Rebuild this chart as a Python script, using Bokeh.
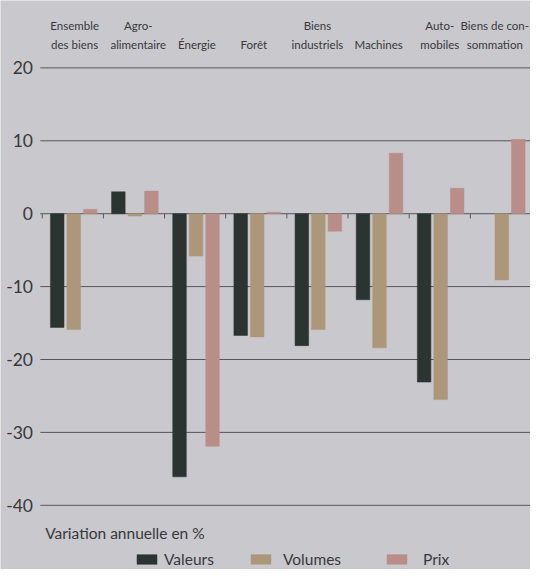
from bokeh.plotting import figure
from bokeh.models import Legend, LegendItem, Range1d
from bokeh.core.properties import value
from bokeh.embed import file_html
from bokeh.resources import INLINE

# ---------------- data ----------------
categories = ["Ensemble des biens", "Agroalimentaire", "Énergie", "Forêt",
              "Biens industriels", "Machines", "Automobiles", "Biens de consommation"]
label_line1 = ["Ensemble", "Agro-", "", "", "Biens", "", "Auto-", "Biens de con-"]
label_line2 = ["des biens", "alimentaire", "Énergie", "Forêt", "industriels",
               "Machines", "mobiles", "sommation"]
valeurs = [-15.6, 3.0, -36.1, -16.7, -18.1, -11.8, -23.1, float("nan")]
volumes = [-15.9, -0.3, -5.8, -16.9, -15.9, -18.4, -25.5, -9.1]
prix = [0.6, 3.1, -31.9, 0.2, -2.4, 8.3, 3.5, 10.2]
y_ticks = [-40, -30, -20, -10, 0, 10, 20]
series_names = ["Valeurs", "Volumes", "Prix"]
unit_note = "Variation annuelle en %"

# ---------------- style / layout ----------------
FONT = "Lato"
BG = "#c9c8cd"
GRID = "#56565b"
TXT = "#38383a"
COLORS = ["#2b3430", "#ad977a", "#b98e89"]

REF_W, REF_H = 546, 585      # design grid
W, H = 530, 569              # actual figure size
SX, SY = W / REF_W, H / REF_H
PXY = 7.495                  # design pixels per unit (y)
PXX = 63.0                   # design pixels per category group
Y20 = 69.3                   # design row of the 20 gridline
X0 = 43.0                    # design column of the first group boundary


def y_at(py):
    return 20 + (Y20 - py) / PXY


def x_at(px):
    return (px - X0) / PXX


p = figure(width=W, height=H,
           x_range=Range1d(x_at(0), x_at(REF_W)), y_range=Range1d(y_at(REF_H), y_at(0)),
           output_backend="svg", toolbar_location=None, title=None,
           min_border=0)
p.background_fill_color = BG
p.border_fill_color = BG
p.outline_line_color = None
p.axis.visible = False
p.grid.visible = False

n = len(categories)

# horizontal gridlines and their labels
p.segment(x0=[x_at(41)] * len(y_ticks), x1=[x_at(REF_W)] * len(y_ticks),
          y0=y_ticks, y1=y_ticks, line_color=GRID, line_width=1)
p.text(x=[x_at(33.5)] * len(y_ticks), y=y_ticks, text=[str(t) for t in y_ticks],
       text_align="right", text_baseline="middle",
       text_font=value(FONT), text_font_size="17.5px", text_color=TXT)

# bars
offsets = [0.245, 0.515, 0.785]
renderers = []
for k, vals in enumerate([valeurs, volumes, prix]):
    xs = [i + offsets[k] for i in range(n)]
    r = p.vbar(x=xs, top=vals, bottom=0, width=0.222,
               fill_color=COLORS[k], line_color=COLORS[k], line_width=0.5)
    renderers.append(r)

# small ticks on the zero line at group boundaries
bounds = list(range(n))
p.segment(x0=bounds, y0=[0] * n, x1=bounds, y1=[-0.65] * n,
          line_color=GRID, line_width=1)

# category labels above the plot
label_shift = [0.03, 0.07, 0.03, -0.04, 0, 0, 0.0, -0.1]
cx = [i + 0.5 + label_shift[i] for i in range(n)]
p.text(x=cx, y=[y_at(25.5)] * n, text=label_line1,
       text_align="center", text_baseline="alphabetic",
       text_font=value(FONT), text_font_size="11.5px", text_color=TXT)
p.text(x=cx, y=[y_at(45)] * n, text=label_line2,
       text_align="center", text_baseline="alphabetic",
       text_font=value(FONT), text_font_size="11.5px", text_color=TXT)

# unit note
p.text(x=[x_at(46)], y=[y_at(547.5)], text=[unit_note],
       text_align="left", text_baseline="alphabetic",
       text_font=value(FONT), text_font_size="15.5px", text_color=TXT)

# legend (one block per series)
leg_x = [138, 256, 396]
leg_standoff = [5, 10, 14]
for k in range(3):
    leg = Legend(items=[LegendItem(label=series_names[k], renderers=[renderers[k]])],
                 location=(round(leg_x[k] * SX), 1), orientation="horizontal",
                 glyph_width=25, glyph_height=12, label_height=12,
                 label_standoff=leg_standoff[k], padding=0, margin=0, spacing=0,
                 border_line_color=None, background_fill_alpha=0,
                 label_text_font=FONT, label_text_font_size="15.5px",
                 label_text_color=TXT)
    p.add_layout(leg)

open("out.html", "w").write(file_html(p, INLINE))
